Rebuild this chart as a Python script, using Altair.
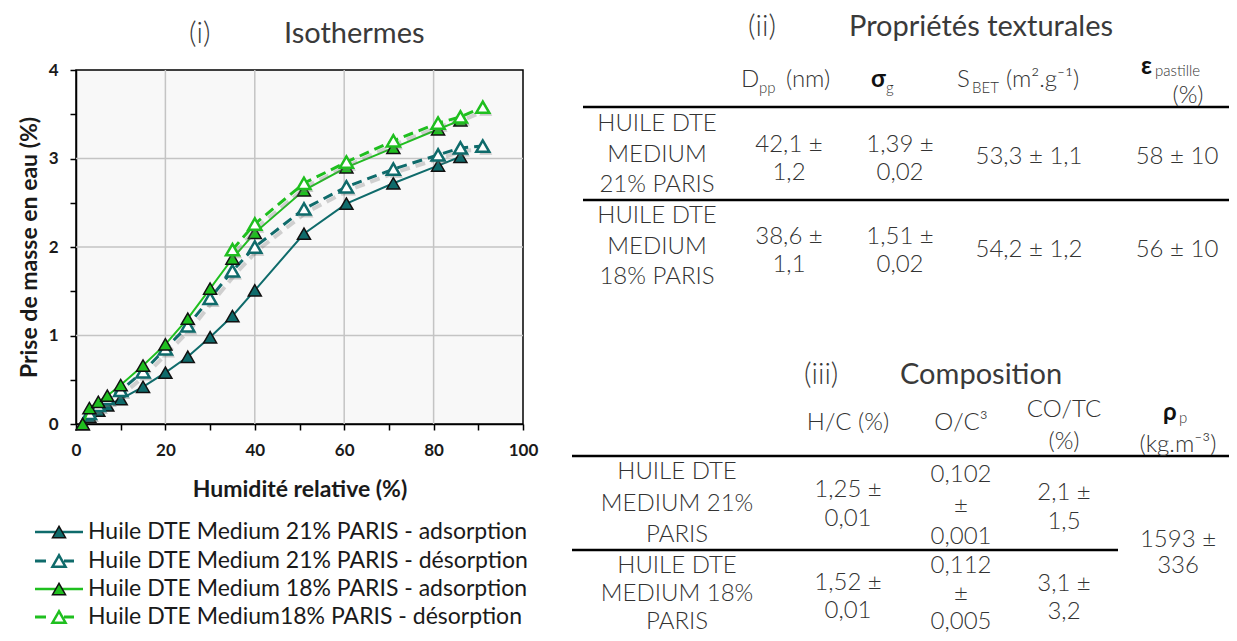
import altair as alt
import pandas as pd

# ---------------- data ----------------
SERIES = [
    "Huile DTE Medium 21% PARIS - adsorption",
    "Huile DTE Medium 21% PARIS - désorption",
    "Huile DTE Medium 18% PARIS - adsorption",
    "Huile DTE Medium18% PARIS - désorption",
]
rh_ads_21 = [1.5, 3, 5, 7, 10, 15, 20, 25, 30, 35, 40, 51, 60.5, 71, 81, 86]
w_ads_21 = [0.0, 0.08, 0.15, 0.21, 0.28, 0.42, 0.58, 0.76, 0.98, 1.22, 1.51, 2.15, 2.49, 2.72, 2.92, 3.02]
rh_des_21 = [91, 86, 81, 71, 60.5, 51, 40, 35, 30, 25, 20, 15, 10, 7, 5, 3]
w_des_21 = [3.14, 3.12, 3.04, 2.88, 2.68, 2.43, 2.0, 1.73, 1.42, 1.11, 0.85, 0.59, 0.38, 0.29, 0.21, 0.12]
rh_ads_18 = [1.5, 3, 5, 7, 10, 15, 20, 25, 30, 35, 40, 51, 60.5, 71, 81, 86]
w_ads_18 = [0.0, 0.18, 0.25, 0.32, 0.44, 0.66, 0.9, 1.19, 1.53, 1.87, 2.16, 2.64, 2.9, 3.12, 3.33, 3.43]
rh_des_18 = [91, 86, 81, 71, 60.5, 51, 40, 35]
w_des_18 = [3.58, 3.47, 3.40, 3.2, 2.96, 2.72, 2.26, 1.97]

x_ticks = [0, 10, 20, 30, 40, 50, 60, 70, 80, 90, 100]
y_ticks = [0, 0.5, 1, 1.5, 2, 2.5, 3, 3.5, 4]
grid_x = [20, 40, 60, 80]
grid_y = [1, 2, 3]

tab2_title = ["(ii)", "Propriétés texturales"]
tab2_samples = ["HUILE DTE\nMEDIUM\n21% PARIS", "HUILE DTE\nMEDIUM\n18% PARIS"]
tab2_dpp = ["42,1 ±\n1,2", "38,6 ±\n1,1"]
tab2_sigma = ["1,39 ±\n0,02", "1,51 ±\n0,02"]
tab2_sbet = ["53,3 ± 1,1", "54,2 ± 1,2"]
tab2_eps = ["58 ± 10", "56 ± 10"]

tab3_title = ["(iii)", "Composition"]
tab3_samples = ["HUILE DTE\nMEDIUM 21%\nPARIS", "HUILE DTE\nMEDIUM 18%\nPARIS"]
tab3_hc = ["1,25 ±\n0,01", "1,52 ±\n0,01"]
tab3_oc = ["0,102\n±\n0,001", "0,112\n±\n0,005"]
tab3_cotc = ["2,1 ±\n1,5", "3,1 ±\n3,2"]
tab3_rho = ["1593 ±\n336"]

# ---------------- styles ----------------
TEAL = "#0f6b6b"
GREEN = "#1fbf1f"
COLORS = [TEAL, TEAL, GREEN, GREEN]
DASHED = [False, True, False, True]
FILLED = [True, False, True, False]
AXFONT = "Lato"
TXFONT = "Lato"
TXCOL = "#333333"
BODY = 24
SUB = 15

W, H = 447, 354
PX0, PY0 = 76, 70  # page position of plot origin

X = alt.X(
    "rh:Q",
    scale=alt.Scale(domain=[0, 100], nice=False, zero=False),
    axis=alt.Axis(
        values=x_ticks, format="d",
        labelExpr="datum.value % 20 === 0 ? datum.label : ''",
        grid=False, domainColor="black", domainWidth=1.5,
        tickColor="black", tickWidth=1.5, tickSize=6,
        labelFont=AXFONT, labelFontWeight="bold", labelFontSize=17, labelColor="#1a1a1a",
        labelPadding=12, labelFlush=False, labelOverlap=False,
        title="Humidité relative (%)", titleFont=AXFONT, titleFontSize=23,
        titleFontWeight="bold", titleColor="#1a1a1a", titlePadding=20,
    ),
)
Y = alt.Y(
    "w:Q",
    scale=alt.Scale(domain=[0, 4], nice=False, zero=False),
    axis=alt.Axis(
        values=y_ticks, format=".1f",
        labelExpr="datum.value % 1 === 0 ? format(datum.value, 'd') : ''",
        grid=False, domainColor="black", domainWidth=1.5,
        tickColor="black", tickWidth=1.5, tickSize=6,
        labelFont=AXFONT, labelFontWeight="bold", labelFontSize=17, labelColor="#1a1a1a",
        labelPadding=12, labelFlush=False, labelOverlap=False,
        title="Prise de masse en eau (%)", titleFont=AXFONT, titleFontSize=23,
        titleFontWeight="bold", titleColor="#1a1a1a", titlePadding=7,
    ),
)

series_data = [
    (rh_ads_21, w_ads_21),
    (rh_des_21, w_des_21),
    (rh_ads_18, w_ads_18),
    (rh_des_18, w_des_18),
]

MSIZE = 170
plot_layers = [
    alt.Chart(pd.DataFrame({"rh": grid_x})).mark_rule(color="#c4c4c4", strokeWidth=1.5).encode(x=X),
    alt.Chart(pd.DataFrame({"w": grid_y})).mark_rule(color="#c4c4c4", strokeWidth=1.5).encode(y=Y),
]
for i, (xs, ys) in enumerate(series_data):
    df = pd.DataFrame({"rh": xs, "w": ys, "series": SERIES[i]})
    base = alt.Chart(df).encode(x=X, y=Y)
    if DASHED[i]:
        plot_layers.append(base.mark_line(color="#6f6f6f", opacity=0.3, strokeWidth=4,
                                          strokeDash=[10, 6], xOffset=3, yOffset=3))
        plot_layers.append(base.mark_point(shape="triangle-up", size=MSIZE, filled=True,
                                           color="#6f6f6f", opacity=0.35, xOffset=3, yOffset=3))
        plot_layers.append(base.mark_line(color=COLORS[i], strokeWidth=3, strokeDash=[10, 6]))
    else:
        plot_layers.append(base.mark_line(color=COLORS[i], strokeWidth=2))
    if FILLED[i]:
        plot_layers.append(base.mark_point(shape="triangle-up", size=MSIZE, filled=True, opacity=1,
                                           fill=COLORS[i], stroke="#111111", strokeWidth=1.5))
    else:
        plot_layers.append(base.mark_point(shape="triangle-up", size=MSIZE, filled=True, opacity=1,
                                           fill="white", stroke=COLORS[i], strokeWidth=2.5))

plot = alt.layer(*plot_layers)

# ---------------- annotation layer (page-coordinate scales) ----------------
AX = alt.X("px:Q", scale=alt.Scale(domain=[PX0, PX0 + W], nice=False, zero=False), axis=None)
AY = alt.Y("py:Q", scale=alt.Scale(domain=[PY0, PY0 + H], nice=False, zero=False, reverse=True), axis=None)


def txt(rows, size, weight=300, align="center", color=TXCOL, font=TXFONT, lh=None):
    df = pd.DataFrame(rows, columns=["text", "px", "py"])
    kw = dict(font=font, fontSize=size, fontWeight=weight, align=align, baseline="middle",
              color=color, lineBreak="\n")
    if lh:
        kw["lineHeight"] = lh
    return alt.Chart(df).mark_text(**kw).encode(x=AX, y=AY, text="text:N")


ann = []
# titles
ann.append(txt([("(i)", 189, 34), (tab2_title[0], 748, 27), (tab3_title[0], 804, 375)],
               29, weight=300, align="left", color="#3a3a3a"))
ann.append(txt([("Isothermes", 284, 34), (tab2_title[1], 849, 27), (tab3_title[1], 900, 375)],
               29, weight=400, align="left", color="#3a3a3a"))

# table lines
rules_df = pd.DataFrame({"px": [583, 583, 572, 572], "px2": [1229, 1229, 1229, 1118],
                         "py": [107, 200, 456, 550]})
ann.append(alt.Chart(rules_df).mark_rule(color="black", strokeWidth=2.5)
           .encode(x=AX, x2="px2:Q", y=AY))

# table (ii) headers
ann.append(txt([("D", 741, 80), ("(nm)", 786, 80), ("S", 957, 80), ("(m².g⁻¹)", 1006, 80)],
               BODY, align="left"))
ann.append(txt([("(%)", 1188, 96)], BODY))
ann.append(txt([("pp", 759, 88), ("g", 886, 88), ("BET", 972, 88), ("pastille", 1155, 71)],
               SUB, align="left"))
ann.append(txt([("σ", 871, 80), ("ε", 1141, 67)], BODY, weight=700, align="left", color="#111"))
# table (ii) body
ann.append(txt([(tab2_dpp[0], 789, 145), (tab2_sigma[0], 900, 145),
                (tab2_dpp[1], 789, 237), (tab2_sigma[1], 900, 237)], BODY, lh=27.5))
ann.append(txt([(tab2_sbet[0], 1029, 157), (tab2_eps[0], 1177, 157),
                (tab2_sbet[1], 1029, 250), (tab2_eps[1], 1177, 250)], BODY))
ann.append(txt([(tab2_samples[0], 657, 124), (tab2_samples[1], 657, 216)], BODY, lh=30.5))

# table (iii) headers
ann.append(txt([("H/C (%)", 848, 423), ("O/C³", 961, 423)], BODY))
ann.append(txt([("CO/TC\n(%)", 1064, 410)], BODY, lh=32))
ann.append(txt([("(kg.m⁻³)", 1178, 445)], BODY))
ann.append(txt([("ρ", 1163, 413)], BODY, weight=700, align="left", color="#111"))
ann.append(txt([("p", 1179, 418)], SUB, align="left"))
# table (iii) body
ann.append(txt([(tab3_hc[0], 848, 490), (tab3_cotc[0], 1064, 493)], BODY, lh=29))
ann.append(txt([(tab3_hc[1], 848, 583), (tab3_cotc[1], 1064, 584)], BODY, lh=28))
ann.append(txt([(tab3_rho[0], 1178, 540)], BODY, lh=26))
ann.append(txt([(tab3_oc[0], 961, 475)], BODY, lh=31))
ann.append(txt([(tab3_oc[1], 961, 566)], BODY, lh=28))
ann.append(txt([(tab3_samples[0], 677, 472)], BODY, lh=31.5))
ann.append(txt([(tab3_samples[1], 677, 566)], BODY, lh=28))

# legend
leg_y = [532, 561, 589, 617]
for i, s in enumerate(SERIES):
    segs = [(35, 46), (64, 74)] if DASHED[i] else [(35, 83)]
    seg_df = pd.DataFrame({"px": [a for a, b in segs], "px2": [b for a, b in segs],
                           "py": [leg_y[i]] * len(segs)})
    ann.append(alt.Chart(seg_df).mark_rule(color=COLORS[i], strokeWidth=3 if DASHED[i] else 2.5)
               .encode(x=AX, x2="px2:Q", y=AY))
    pdf = pd.DataFrame({"px": [59], "py": [leg_y[i]]})
    if FILLED[i]:
        ann.append(alt.Chart(pdf).mark_point(shape="triangle-up", size=MSIZE, filled=True, opacity=1,
                                             fill=COLORS[i], stroke="#111111", strokeWidth=1.5)
                   .encode(x=AX, y=AY))
    else:
        ann.append(alt.Chart(pdf).mark_point(shape="triangle-up", size=MSIZE, filled=True, opacity=1,
                                             fill="white", stroke=COLORS[i], strokeWidth=2.5)
                   .encode(x=AX, y=AY))
ann.append(txt([(s, 88, leg_y[i]) for i, s in enumerate(SERIES)], 23, weight=400,
               align="left", color="#1a1a1a"))

annot = alt.layer(*ann)

chart = (
    alt.layer(plot, annot)
    .resolve_scale(x="independent", y="independent")
    .properties(
        width=W, height=H,
        autosize=alt.AutoSizeParams(type="none"),
        padding={"left": PX0 - 8, "top": PY0 - 8, "right": 1221 - (PX0 - 8) - W,
                 "bottom": 625 - (PY0 - 8) - H},
    )
    .configure_view(fill="#f8f8f8", stroke="black", strokeWidth=1.5)
)

chart.save("out.html", embed_options={"renderer": "svg", "actions": False})
